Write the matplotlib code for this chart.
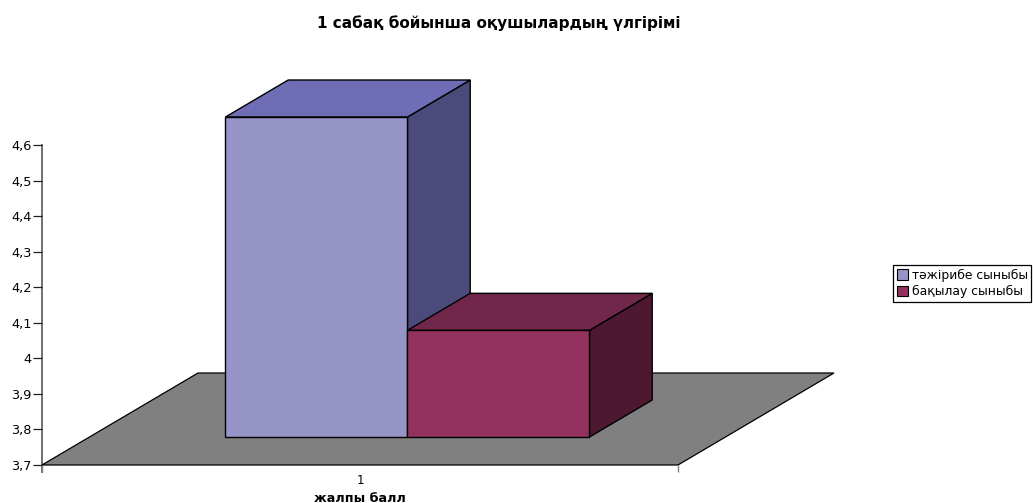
import matplotlib.pyplot as plt
from matplotlib.patches import Polygon, Patch

plt.rcParams['font.family'] = ['DejaVu Sans']

title = "1 сабақ бойынша оқушылардың үлгірімі"
series_names = ["тәжірибе сыныбы", "бақылау сыныбы"]
series_values = [4.6, 4.0]
category = "1"
x_title = "жалпы балл"
y_ticks = [3.7, 3.8, 3.9, 4.0, 4.1, 4.2, 4.3, 4.4, 4.5, 4.6]
y_labels = ["3,7", "3,8", "3,9", "4", "4,1", "4,2", "4,3", "4,4", "4,5", "4,6"]

front_colors = ["#9794c8", "#93325f"]
top_colors = ["#6f6db5", "#70274a"]
side_colors = ["#4b4a7b", "#4e1830"]

W, H = 1033, 503
fig = plt.figure(figsize=(W / 100, H / 100), dpi=100)
# 3.7 sits at y=465 px, 4.6 at y=145 px
ax = fig.add_axes([42 / W, (H - 465) / H, 636 / W, 320 / H])
ax.set_xlim(0, 1)
ax.set_ylim(3.7, 4.6)
ax.patch.set_visible(False)

# oblique depth: a full step of floor depth moves this far in data units
depth_x = 156 / 636
depth_y = 92 / 320 * 0.9


def proj(x, v, d):
    return (x + d * depth_x, v + d * depth_y)


def add_poly(pts, color, lw=1.0, z=2):
    ax.add_patch(Polygon(pts, closed=True, facecolor=color, edgecolor="black",
                         linewidth=lw, clip_on=False, zorder=z, joinstyle="miter"))


# floor
add_poly([proj(0, 3.7, 0), proj(1, 3.7, 0), proj(1, 3.7, 1), proj(0, 3.7, 1)], "#808080", 0.9, 1)

# bars, side by side around the category centre
bar_w = 182 / 636
d0, d1 = 28 / 92, 65 / 92
for i, val in enumerate(series_values):
    x0 = 0.5 + (i - 1) * bar_w
    x1 = x0 + bar_w
    add_poly([proj(x1, 3.7, d0), proj(x1, 3.7, d1), proj(x1, val, d1), proj(x1, val, d0)],
             side_colors[i], z=2 + i)
    add_poly([proj(x0, val, d0), proj(x1, val, d0), proj(x1, val, d1), proj(x0, val, d1)],
             top_colors[i], z=2 + i)
    add_poly([proj(x0, 3.7, d0), proj(x1, 3.7, d0), proj(x1, val, d0), proj(x0, val, d0)],
             front_colors[i], z=2 + i)

for s in ["top", "right", "bottom"]:
    ax.spines[s].set_visible(False)
ax.spines["left"].set_color("#707070")
ax.spines["left"].set_linewidth(1.4)
ax.spines["left"].set_bounds(3.68, 4.6)
ax.spines["left"].set_zorder(0)

ax.set_yticks(y_ticks, y_labels)
ax.tick_params(axis="y", length=6.5, width=0.9, color="#202020", labelsize=9.3, pad=1)
ax.set_xticks([0, 1], ["", ""])
ax.tick_params(axis="x", length=5, width=1.0, color="#808080")
ax.text(0.5, -16 / 320, category, transform=ax.transAxes, ha="center", va="center", fontsize=8.5)
ax.text(0.5, -33.5 / 320, x_title, transform=ax.transAxes, ha="center", va="center",
        fontsize=9.2, fontweight="bold")

fig.text(499 / W, 1 - 23 / H, title, ha="center", va="center", fontsize=11, fontweight="bold")

handles = [Patch(facecolor=c, edgecolor="black", linewidth=0.8) for c in front_colors]
leg = fig.legend(handles, series_names, loc="upper left", bbox_to_anchor=(893 / W, 1 - 265 / H),
                 fontsize=8.9, frameon=True, fancybox=False, edgecolor="black", framealpha=1,
                 borderpad=0.3, labelspacing=0.28, handlelength=0.9, handleheight=0.9,
                 handletextpad=0.3, borderaxespad=0)
leg.get_frame().set_linewidth(0.9)

fig.savefig("out.png", dpi=100)
